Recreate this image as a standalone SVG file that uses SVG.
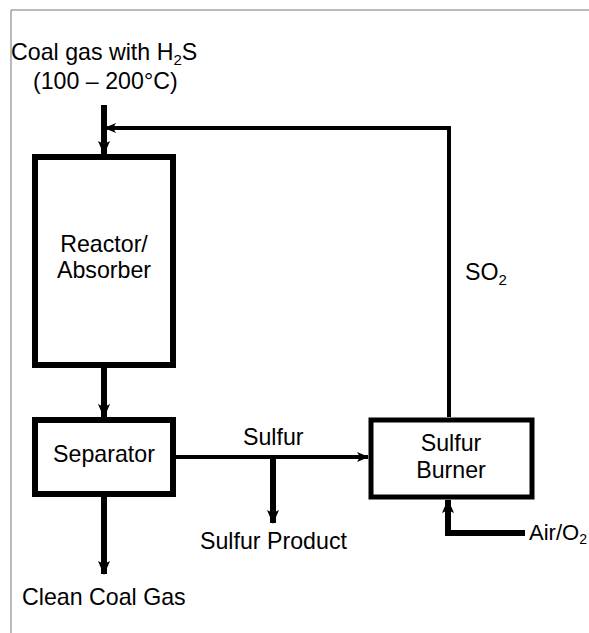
<svg xmlns="http://www.w3.org/2000/svg" width="589" height="633" viewBox="0 0 589 633">
<style>
text{font-family:"Liberation Sans",Arial,sans-serif;font-size:23.2px;fill:#000}
.box{fill:none;stroke:#000}
.ln{fill:none;stroke:#000;stroke-width:4}
.thick{stroke-width:6}
</style>
<defs>
<marker id="ah" viewBox="0 0 12 12" refX="11" refY="6" markerWidth="12" markerHeight="12" markerUnits="userSpaceOnUse" orient="auto">
<path d="M0,1 L12,6 L0,11 L3,6 Z" fill="#000"/>
</marker>
<marker id="ahb" viewBox="0 0 14 14" refX="13" refY="7" markerWidth="14" markerHeight="14" markerUnits="userSpaceOnUse" orient="auto">
<path d="M0,1 L14,7 L0,13 L3,7 Z" fill="#000"/>
</marker>
</defs>
<rect width="589" height="633" fill="#fff"/>
<path d="M11,633 V10 H589" fill="none" stroke="#777" stroke-width="1"/>
<g id="labels">
<text x="11" y="60">Coal gas with H<tspan font-size="15" dy="5">2</tspan><tspan dy="-5">S</tspan></text>
<text x="33" y="89">(100 – 200°C)</text>
<text x="465" y="280">SO<tspan font-size="15" dy="5">2</tspan></text>
<text x="243" y="445">Sulfur</text>
<text x="200" y="549">Sulfur Product</text>
<text x="22" y="605">Clean Coal Gas</text>
<text x="529" y="540" font-size="22" style="font-size:22px">Air/O<tspan font-size="14" style="font-size:14px" dy="4">2</tspan></text>
</g>
<g id="reactor">
<rect class="box" x="35" y="157" width="138" height="208" stroke-width="6"/>
<text x="104" y="252" text-anchor="middle">Reactor/</text>
<text x="104" y="278" text-anchor="middle">Absorber</text>
</g>
<g id="separator">
<rect class="box" x="35" y="420" width="138" height="74" stroke-width="6"/>
<text x="104" y="462" text-anchor="middle">Separator</text>
</g>
<g id="burner">
<rect class="box" x="371" y="420" width="161" height="77" stroke-width="5"/>
<text x="451" y="451" text-anchor="middle">Sulfur</text>
<text x="451" y="478" text-anchor="middle">Burner</text>
</g>
<g id="connectors">
<path class="ln thick" d="M104,105 V154" marker-end="url(#ahb)"/>
<path class="ln" d="M449,417 V128 H105" marker-end="url(#ah)"/>
<path class="ln thick" d="M104,368 V417" marker-end="url(#ahb)"/>
<path class="ln thick" d="M104,497 V574" marker-end="url(#ahb)"/>
<path class="ln" d="M176,457 H368" marker-end="url(#ah)"/>
<path class="ln thick" d="M273,457 V523" marker-end="url(#ahb)"/>
<path class="ln thick" d="M525,533 H448 V500" marker-end="url(#ahb)"/>
</g>
</svg>
